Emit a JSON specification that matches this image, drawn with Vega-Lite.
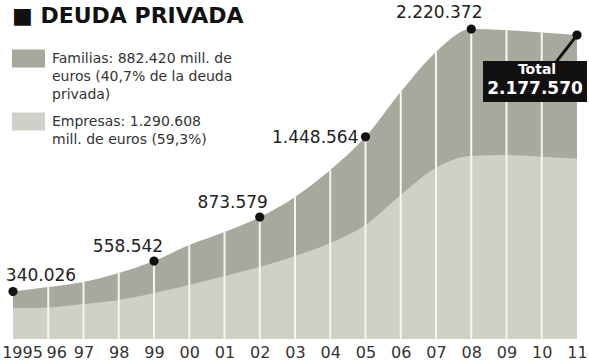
{
  "$schema": "https://vega.github.io/schema/vega-lite/v6.json",
  "width": 564,
  "height": 335,
  "autosize": {"type": "none"},
  "padding": {"left": 13, "top": 4, "right": 12, "bottom": 24},
  "background": "white",
  "config": {"view": {"stroke": null}},
  "title": {"text": "■ DEUDA PRIVADA", "anchor": "start", "frame": "group", "font": "DejaVu Sans", "fontSize": 22, "fontWeight": "bold", "color": "#111111", "offset": -24, "dx": -1},
  "data": {"values": [
    {"year": 1995, "total": 340026, "empresas": 222000, "label": "340.026"},
    {"year": 1996, "total": 373000, "empresas": 226000},
    {"year": 1997, "total": 409000, "empresas": 251000},
    {"year": 1998, "total": 473000, "empresas": 280000},
    {"year": 1999, "total": 558542, "empresas": 330000, "label": "558.542"},
    {"year": 2000, "total": 674000, "empresas": 387000},
    {"year": 2001, "total": 767000, "empresas": 452000},
    {"year": 2002, "total": 873579, "empresas": 516000, "label": "873.579"},
    {"year": 2003, "total": 1018000, "empresas": 595000},
    {"year": 2004, "total": 1211000, "empresas": 688000},
    {"year": 2005, "total": 1448564, "empresas": 817000, "label": "1.448.564"},
    {"year": 2006, "total": 1771000, "empresas": 1032000},
    {"year": 2007, "total": 2057000, "empresas": 1226000},
    {"year": 2008, "total": 2220372, "empresas": 1312000, "label": "2.220.372"},
    {"year": 2009, "total": 2212000, "empresas": 1318000},
    {"year": 2010, "total": 2195000, "empresas": 1305000},
    {"year": 2011, "total": 2177570, "empresas": 1290608, "label": "2.177.570"}
  ]},
  "encoding": {
    "x": {"field": "year", "type": "quantitative",
      "scale": {"domain": [1995, 2011], "nice": false, "zero": false},
      "axis": {"title": null, "values": [1995,1996,1997,1998,1999,2000,2001,2002,2003,2004,2005,2006,2007,2008,2009,2010,2011],
        "labelExpr": "datum.value == 1995 ? '1995' : slice(toString(datum.value), 2)",
        "grid": false, "domain": false, "ticks": false,
        "labelFont": "DejaVu Sans", "labelFontSize": 16, "labelColor": "#333333", "labelPadding": 5,
        "labelFlush": false, "labelOverlap": false,
        "labelOffset": {"condition": [{"test": "datum.value == 1995", "value": 9}, {"test": "datum.value == 1996", "value": 8}], "value": 0}}},
    "y": {"field": "total", "type": "quantitative", "scale": {"domain": [0, 2400000], "nice": false}, "axis": null}
  },
  "layer": [
    {"mark": {"type": "area", "interpolate": "monotone"},
     "encoding": {"color": {"datum": "Familias", "type": "nominal",
        "scale": {"domain": ["Familias", "Empresas"], "range": ["#a9a89c", "#d0d0c8"]},
        "legend": {"title": null, "orient": "none", "legendX": -1, "legendY": 38,
          "symbolType": "M-1,-0.55H1V0.55H-1Z", "symbolSize": 1089, "symbolStrokeWidth": 0, "symbolOpacity": 1,
          "labelFont": "DejaVu Sans", "labelFontSize": 14, "labelColor": "#333333", "labelOffset": 7, "labelLimit": 400,
          "rowPadding": 3, "padding": 0,
          "labelExpr": "datum.label == 'Familias' ? ['Familias: 882.420 mill. de', 'euros (40,7% de la deuda', 'privada)'] : ['Empresas: 1.290.608', 'mill. de euros (59,3%)']",
          "encode": {"labels": {"update": {"lineHeight": {"value": 18}}}}}}}},
    {"mark": {"type": "area", "interpolate": "monotone"},
     "encoding": {"y": {"field": "empresas", "type": "quantitative"}, "color": {"datum": "Empresas", "type": "nominal"}}},
    {"transform": [{"filter": "datum.year > 1995 && datum.year < 2011"}],
     "mark": {"type": "rule", "color": "#f6f6f1", "strokeWidth": 2},
     "encoding": {"y2": {"datum": 0}}},
    {"transform": [{"filter": "isValid(datum.label)"}],
     "mark": {"type": "point", "filled": true, "color": "#111111", "size": 85, "opacity": 1},
     "encoding": {}},
    {"transform": [{"filter": "datum.year == 1995"}],
     "mark": {"type": "text", "font": "DejaVu Sans", "fontSize": 17, "color": "#222222", "dx": 28, "dy": -16},
     "encoding": {"text": {"field": "label"}}},
    {"transform": [{"filter": "datum.year == 1999"}],
     "mark": {"type": "text", "font": "DejaVu Sans", "fontSize": 17, "color": "#222222", "dx": -26, "dy": -14},
     "encoding": {"text": {"field": "label"}}},
    {"transform": [{"filter": "datum.year == 2002"}],
     "mark": {"type": "text", "font": "DejaVu Sans", "fontSize": 17, "color": "#222222", "dx": -27, "dy": -14},
     "encoding": {"text": {"field": "label"}}},
    {"transform": [{"filter": "datum.year == 2005"}],
     "mark": {"type": "text", "font": "DejaVu Sans", "fontSize": 17, "color": "#222222", "align": "right", "dx": -7, "dy": 1},
     "encoding": {"text": {"field": "label"}}},
    {"transform": [{"filter": "datum.year == 2008"}],
     "mark": {"type": "text", "font": "DejaVu Sans", "fontSize": 17, "color": "#222222", "dx": -32, "dy": -16},
     "encoding": {"text": {"field": "label"}}},
    {"transform": [{"filter": "datum.year == 2011"}],
     "mark": {"type": "rule", "color": "#111111", "strokeWidth": 3, "x2Offset": -21, "y2Offset": 27},
     "encoding": {"x2": {"field": "year"}, "y2": {"field": "total"}}},
    {"transform": [{"filter": "datum.year == 2011"}],
     "mark": {"type": "rect", "color": "#111111", "xOffset": -94, "x2Offset": 10, "yOffset": 26, "y2Offset": 67},
     "encoding": {"x2": {"field": "year"}, "y2": {"field": "total"}}},
    {"transform": [{"filter": "datum.year == 2011"}],
     "mark": {"type": "text", "font": "DejaVu Sans", "fontSize": 14, "fontWeight": "bold", "color": "white", "dx": -40, "dy": 35},
     "encoding": {"text": {"value": "Total"}}},
    {"transform": [{"filter": "datum.year == 2011"}],
     "mark": {"type": "text", "font": "DejaVu Sans", "fontSize": 17, "fontWeight": "bold", "color": "white", "dx": -42, "dy": 54},
     "encoding": {"text": {"field": "label"}}}
  ]
}
